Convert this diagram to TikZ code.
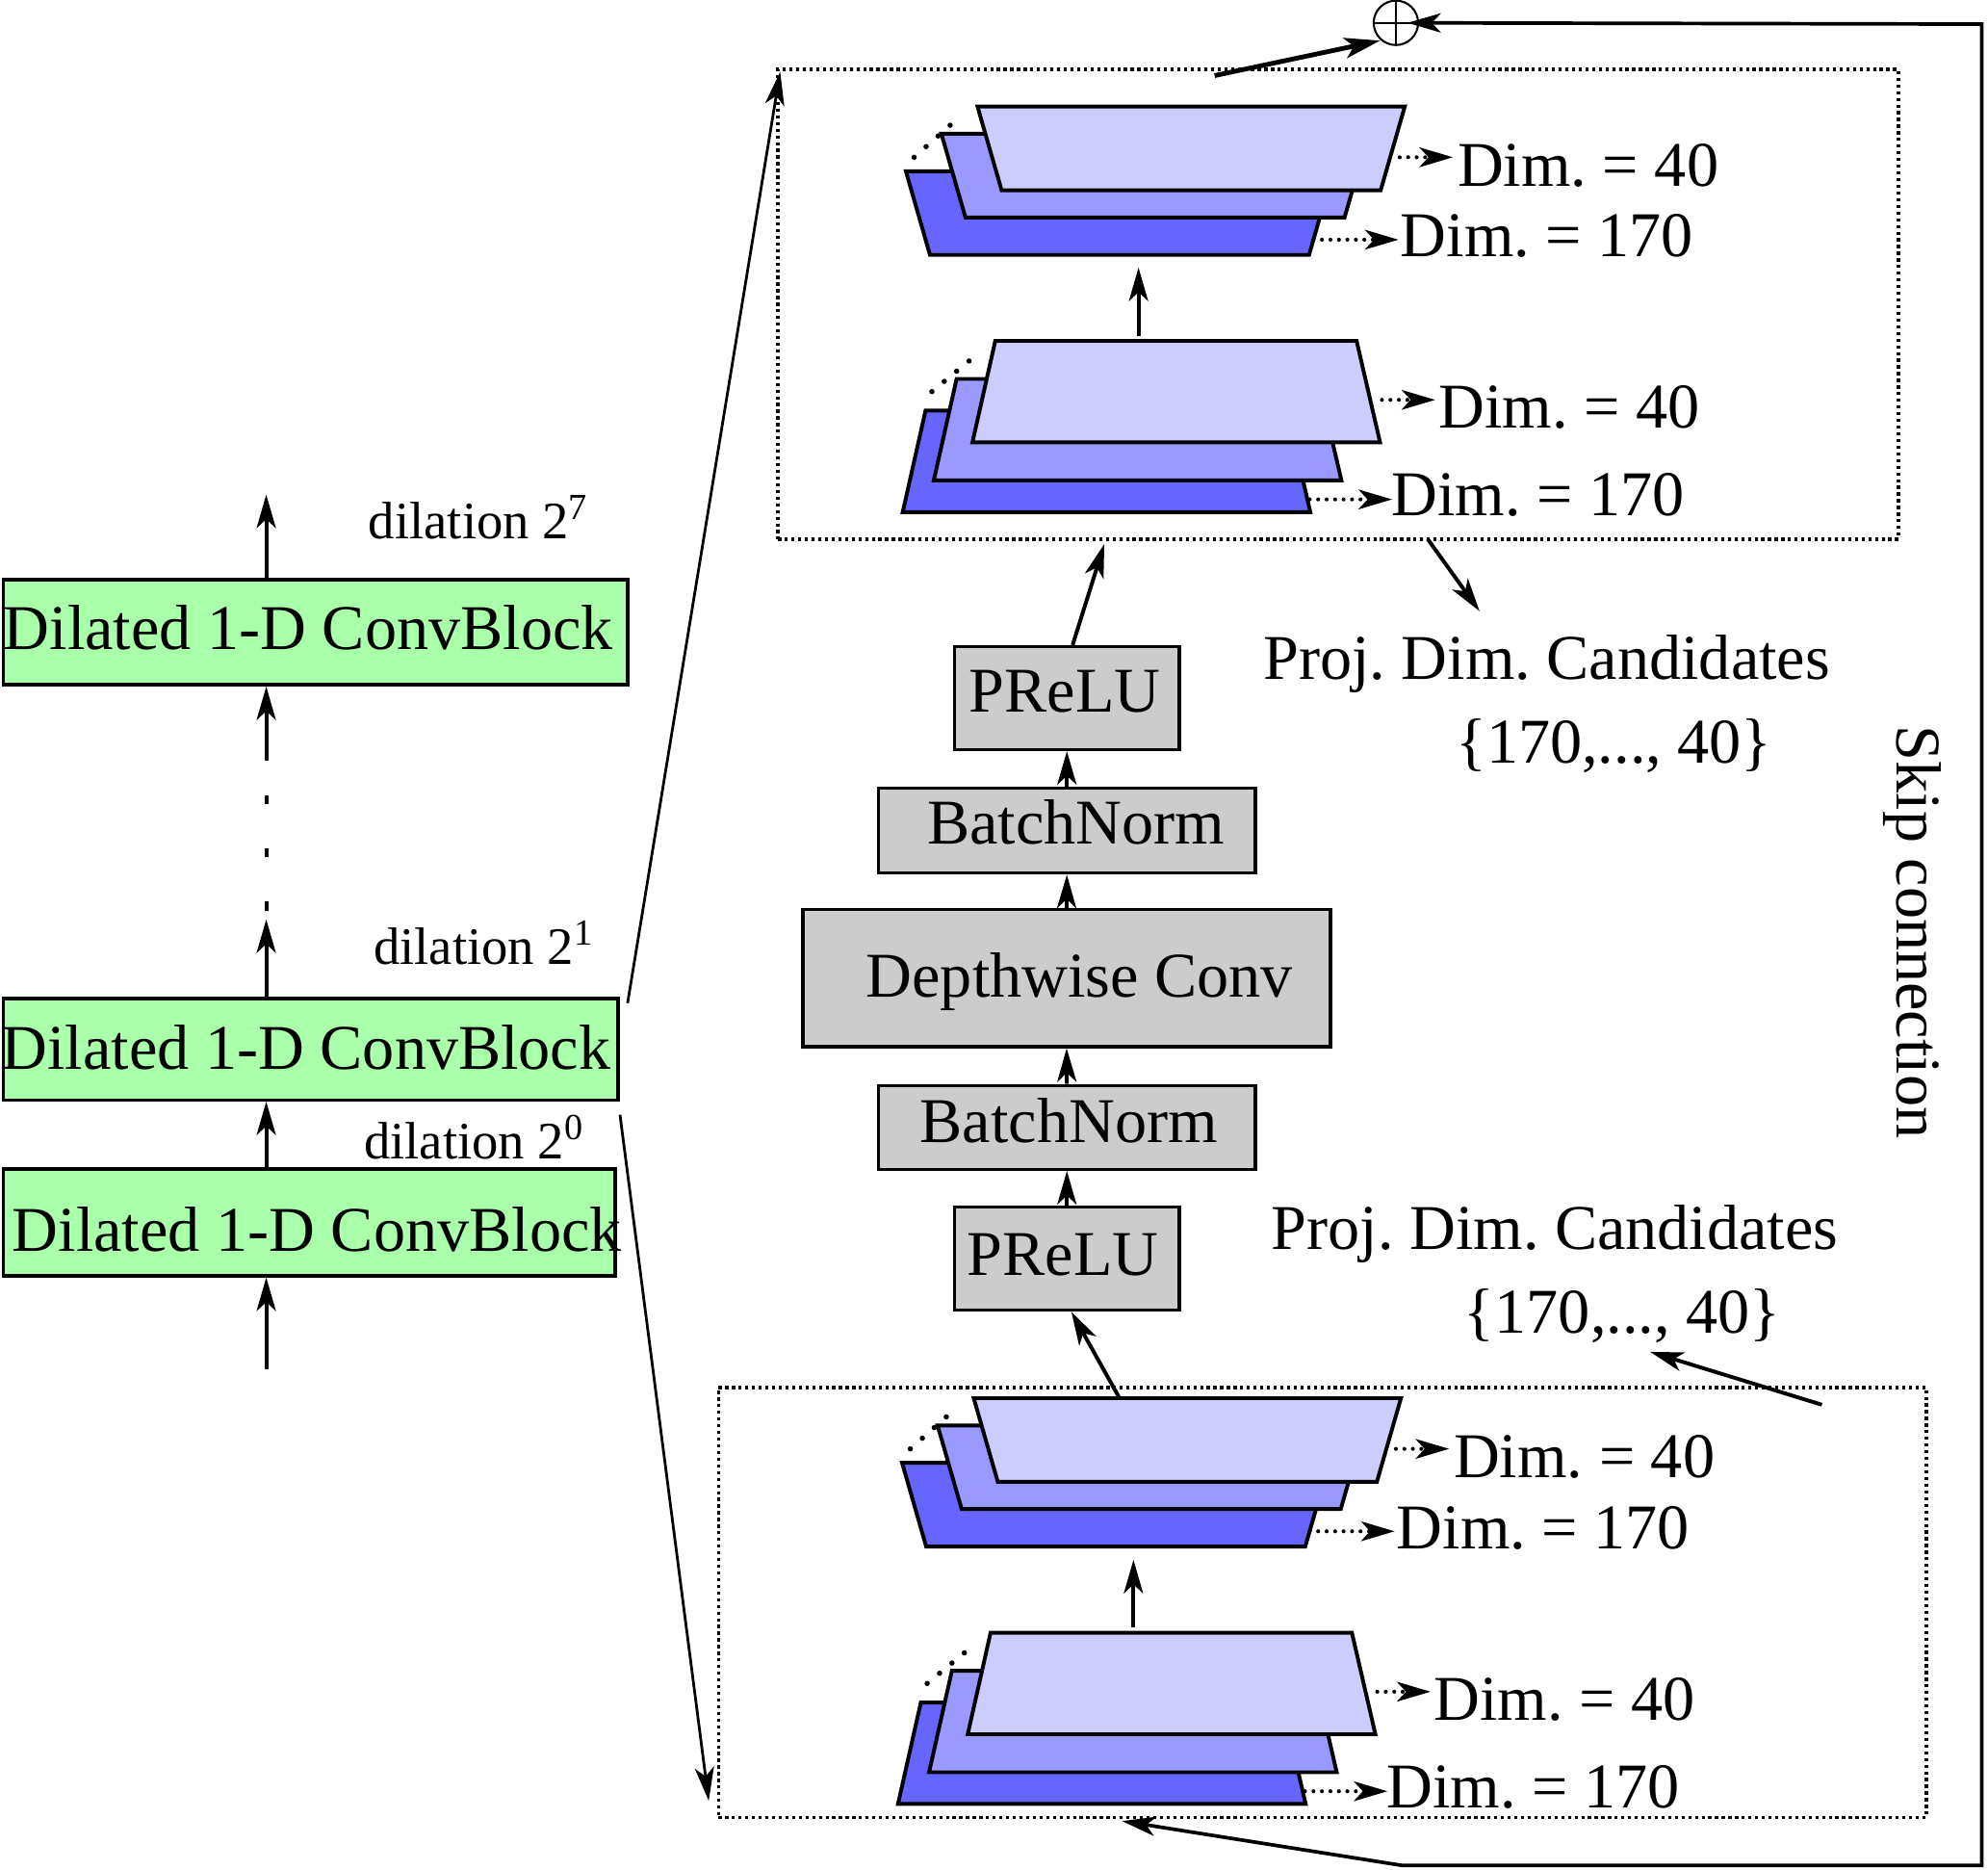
\documentclass[tikz,border=0pt]{standalone}
\usepackage{fontspec}
\setmainfont{Liberation Serif}
\usetikzlibrary{arrows.meta}
\definecolor{gfill}{HTML}{AAFFAA}
\definecolor{bfill}{HTML}{CCCCCC}
\definecolor{layA}{HTML}{CCCCFF}
\definecolor{layB}{HTML}{9999FF}
\definecolor{layC}{HTML}{6666FF}
\newcommand{\mainf}{\fontsize{14.3pt}{17pt}\selectfont}
\newcommand{\dilf}{\fontsize{11.8pt}{14pt}\selectfont}
\newcommand{\dimlab}[1]{Dim.\ = #1}
\frenchspacing
% inverted stack (wider on top); #1 front top-left, #2 name prefix
\newcommand{\invstack}[2]{%
\begin{scope}[shift={(#1)}]
 \draw[stackdots] (-50,40) -- (-14,8);
 \draw[layer,fill=layC] (-56.5,51) -- ++(337,0) -- ++(-19,66) -- ++(-299,0) -- cycle;
 \draw[layer,fill=layB] (-28.5,21.5) -- ++(337,0) -- ++(-19,66) -- ++(-299,0) -- cycle;
 \draw[layer,fill=layA] (0,0) -- ++(337,0) -- ++(-19,66) -- ++(-299,0) -- cycle;
 \coordinate (#2s1) at (333,40); \coordinate (#2e1) at (375,40);
 \coordinate (#2s2) at (265,105); \coordinate (#2e2) at (332,105);
 \node[lbl,anchor=base west] (#2t1) at (378,62.8) {\dimlab{40}};
 \node[lbl,anchor=base west] (#2t2) at (333,118.5) {\dimlab{170}};
 \draw[dimarr] (#2s1) -- (#2e1);
 \draw[dimarr] (#2s2) -- (#2e2);
\end{scope}}
% regular stack (narrower on top)
\newcommand{\regstack}[2]{%
\begin{scope}[shift={(#1)}]
 \draw[stackdots] (-50,40) -- (-16,12);
 \draw[layer,fill=layC] (-55,55) -- ++(285,0) -- ++(18.5,80) -- ++(-321.5,0) -- cycle;
 \draw[layer,fill=layB] (-30.5,30) -- ++(285,0) -- ++(18.5,80) -- ++(-321.5,0) -- cycle;
 \draw[layer,fill=layA] (0,0) -- ++(285,0) -- ++(18.5,80) -- ++(-321.5,0) -- cycle;
 \coordinate (#2s1) at (305,46.5); \coordinate (#2e1) at (347,46.5);
 \coordinate (#2s2) at (248,125); \coordinate (#2e2) at (313,125);
 \node[lbl,anchor=base west] (#2t1) at (349,69) {\dimlab{40}};
 \node[lbl,anchor=base west] (#2t2) at (312,137.8) {\dimlab{170}};
 \draw[dimarr] (#2s1) -- (#2e1);
 \draw[dimarr] (#2s2) -- (#2e2);
\end{scope}}
\begin{document}
\begin{tikzpicture}[x=0.01cm,y=-0.01cm,
 every node/.style={font=\mainf},
 gbox/.style={draw, line width=0.75pt, fill=gfill, inner sep=0pt},
 ybox/.style={draw, line width=0.75pt, fill=bfill, inner sep=0pt},
 lbl/.style={inner sep=0pt},
 arr/.style={line width=0.85pt, -{Stealth[length=7.5pt,width=4.3pt,inset=2pt]}},
 thinarr/.style={line width=0.6pt, -{Stealth[length=7.5pt,width=4.3pt,inset=2pt]}},
 thickarr/.style={line width=1.05pt, -{Stealth[length=8pt,width=4.6pt,inset=2pt]}},
 skiparr/.style={line width=0.8pt, line join=miter, {Stealth[length=7.5pt,width=4.3pt,inset=2pt]}-{Stealth[length=7.5pt,width=4.3pt,inset=2pt]}},
 dimarr/.style={line width=0.9pt, line cap=round, dash pattern=on 0pt off 1.9pt, -{Stealth[length=7.5pt,width=4.4pt,inset=2pt]}},
 layer/.style={line width=0.85pt, line join=miter},
 stackdots/.style={line width=1.2pt, line cap=round, dash pattern=on 0pt off 3.6pt},
 dotseg/.style={line width=0.85pt, dash pattern=on 2pt off 9.9pt},
 dotbox/.style={draw, line width=0.8pt, dash pattern=on 0.7pt off 0.8pt, inner sep=0pt},
]
\useasboundingbox (0,0) rectangle (1568,1474.5);

% ---------- left column ----------
\node[gbox, minimum width=4.823cm, minimum height=0.84cm] (b1) at (243.9,964) {};
\node[lbl, anchor=base] (t1) at (250,987) {Dilated 1-D ConvBlock};
\node[gbox, minimum width=4.848cm, minimum height=0.798cm] (b2) at (245,827.4) {};
\node[lbl, anchor=base] (t2) at (241.5,843) {Dilated 1-D ConvBlock};
\node[gbox, minimum width=4.923cm, minimum height=0.83cm] (b3) at (248.9,498.5) {};
\node[lbl, anchor=base] (t3) at (243.2,512.5) {Dilated 1-D ConvBlock};

\node[lbl, anchor=base west, font=\dilf] (dil7) at (290,425) {dilation 2\textsuperscript{7}};
\node[lbl, anchor=base west, font=\dilf] (dil1) at (294,760.4) {dilation 2\textsuperscript{1}};
\node[lbl, anchor=base west, font=\dilf] (dil0) at (286.4,914.2) {dilation 2\textsuperscript{0}};

\coordinate (in0) at (210,1080);
\coordinate (d1) at (210,725);
\coordinate (d2) at (210,600);
\coordinate (d1s) at (210,718);
\coordinate (out7) at (210,390);
\draw[arr] (in0) -- (in0 |- b1.south);
\draw[arr] (in0 |- b1.north) -- (in0 |- b2.south);
\draw[arr] (in0 |- b2.north) -- (d1);
\draw[dotseg] (d1s) -- (d2);
\draw[arr] (d2) -- (in0 |- b3.south);
\draw[arr] (in0 |- b3.north) -- (out7);

% ---------- dotted boxes ----------
\node[dotbox, minimum width=8.83cm, minimum height=3.70cm] (topbox) at (1055.5,240) {};
\node[dotbox, minimum width=9.52cm, minimum height=3.39cm] (botbox) at (1043,1263.5) {};

\coordinate (fromTop) at (495,791);
\coordinate (fromBot) at (489,879);
\coordinate (toBot) at (559,1420);
\draw[thinarr] (fromTop) -- ([shift={(0.03cm,-0.03cm)}]topbox.north west);
\draw[thinarr] (fromBot) -- (toBot);

% ---------- stacks ----------
\invstack{771,84}{A}
\regstack{785,268.8}{B}
\invstack{768,1102.5}{C}
\regstack{781.3,1287.5}{D}

\coordinate (Bup) at (898,265);
\coordinate (Adown) at (898,211);
\draw[arr] (Bup) -- (Adown);
\coordinate (Dup) at (894,1283.5);
\coordinate (Cdown) at (894,1230);
\draw[arr] (Dup) -- (Cdown);

% ---------- middle column ----------
\node[ybox, minimum width=1.77cm, minimum height=0.81cm] (prelu2) at (841.5,550.5) {};
\node[lbl, anchor=base] (prelu2t) at (839.8,561.4) {PReLU};
\node[ybox, minimum width=2.97cm, minimum height=0.67cm] (bn2) at (841.5,654.9) {};
\node[lbl, anchor=base] (bn2t) at (848.6,665.7) {BatchNorm};
\node[ybox, minimum width=4.16cm, minimum height=1.08cm] (dw) at (841.3,771.3) {};
\node[lbl, anchor=base] (dwt) at (851.5,785.9) {Depthwise Conv};
\node[ybox, minimum width=2.97cm, minimum height=0.66cm] (bn1) at (841.5,889) {};
\node[lbl, anchor=base] (bn1t) at (843,900.6) {BatchNorm};
\node[ybox, minimum width=1.77cm, minimum height=0.81cm] (prelu1) at (841.5,992.5) {};
\node[lbl, anchor=base] (prelu1t) at (838.5,1005.6) {PReLU};

\draw[arr] (prelu1.north) -- (bn1.south);
\draw[arr] (bn1.north) -- (dw.south);
\draw[arr] (dw.north) -- (bn2.south);
\draw[arr] (bn2.north) -- (prelu2.south);

\coordinate (Ctop) at (883,1102.5);
\draw[arr] (Ctop) -- ([xshift=0.035cm]prelu1.south);
\coordinate (topin) at (871,429);
\draw[arr] ([xshift=0.045cm]prelu2.north) -- (topin);

% ---------- candidates text ----------
\node[lbl, anchor=base] (proj2) at (1220,536) {Proj. Dim. Candidates};
\node[lbl, anchor=base] (cand2) at (1273,602) {\{170,..., 40\}};
\node[lbl, anchor=base] (proj1) at (1226.4,985.3) {Proj. Dim. Candidates};
\node[lbl, anchor=base] (cand1) at (1279.6,1051.4) {\{170,..., 40\}};
\coordinate (pa1) at (1126,425);
\coordinate (pa2) at (1167,482);
\draw[arr] (pa1) -- (pa2);
\coordinate (pb1) at (1437,1107.7);
\coordinate (pb2) at (1301.5,1066);
\draw[arr] (pb1) -- (pb2);

% ---------- skip connection ----------
\node[draw, circle, line width=0.45pt, minimum size=0.35cm, inner sep=0pt] (plus) at (1101,18) {};
\draw[line width=0.45pt] (plus.north) -- (plus.south) (plus.west) -- (plus.east);
\coordinate (plusIn) at (1110,18);
\coordinate (sk1) at (1563,19);
\coordinate (sk2) at (1563,1471);
\coordinate (sk3) at (1106,1471);
\coordinate (skEnd) at (885,1436);
\draw[skiparr] (plusIn) -- (sk1) -- (sk2) -- (sk3) -- (skEnd);
\coordinate (thk1) at (958,59.6);
\coordinate (thk2) at (1088.5,32);
\draw[thickarr] (thk1) -- (thk2);
\node[lbl, rotate=-90, anchor=base] (skiptxt) at (1496,735) {Skip connection};
\end{tikzpicture}
\end{document}
